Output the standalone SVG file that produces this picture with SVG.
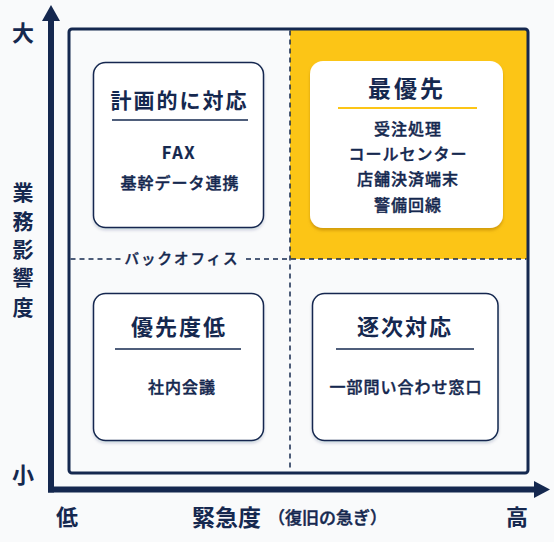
<svg xmlns="http://www.w3.org/2000/svg" width="554" height="542" viewBox="0 0 554 542">
<defs>
<style>
.t{font-family:"Noto Sans CJK JP","Noto Sans",sans-serif;fill:#15284f}
.ax{font-size:22px;font-weight:700}
.vx{font-size:21px;font-weight:700}
.ti{font-size:22px;font-weight:700;text-anchor:middle;letter-spacing:2px}
.bd{font-size:16px;font-weight:500;text-anchor:middle;letter-spacing:1px;stroke:#15284f;stroke-width:0.4px}
.box{fill:#ffffff;stroke:#15284f;stroke-width:1.5}
.dash{stroke:#15284f;stroke-width:1.5;stroke-dasharray:5 4;fill:none}
</style>
<filter id="sh" x="-10%" y="-10%" width="120%" height="125%">
<feDropShadow dx="0" dy="2" stdDeviation="1.5" flood-color="#15284f" flood-opacity="0.18"/>
</filter>
<filter id="shy" x="-10%" y="-10%" width="120%" height="125%">
<feDropShadow dx="0" dy="2.5" stdDeviation="1.5" flood-color="#b07a00" flood-opacity="0.55"/>
</filter>
</defs>
<rect width="554" height="542" fill="#f9fafb"/>

<g id="quadrants">
<rect x="290" y="29" width="238" height="230" fill="#fcc516"/>
<rect x="69" y="29" width="459" height="444" rx="3" fill="none" stroke="#15284f" stroke-width="3"/>
</g>

<g id="connectors">
<line class="dash" x1="290" y1="30.5" x2="290" y2="471.5"/>
<line class="dash" x1="70.5" y1="259" x2="122" y2="259"/>
<line class="dash" x1="246" y1="259" x2="526.5" y2="259"/>
<line x1="51" y1="20" x2="51" y2="492.5" stroke="#15284f" stroke-width="6"/>
<polygon points="51,5 60,21 42,21" fill="#15284f"/>
<line x1="48" y1="489.5" x2="535" y2="489.5" stroke="#15284f" stroke-width="6"/>
<polygon points="550,489.5 534,481 534,498" fill="#15284f"/>
</g>

<g id="axis-labels">
<text class="t ax" x="23" y="41" text-anchor="middle">大</text>
<text class="t vx" x="23" y="200" text-anchor="middle">業</text>
<text class="t vx" x="23" y="229" text-anchor="middle">務</text>
<text class="t vx" x="23" y="257" text-anchor="middle">影</text>
<text class="t vx" x="23" y="285" text-anchor="middle">響</text>
<text class="t vx" x="23" y="315" text-anchor="middle">度</text>
<text class="t ax" x="23" y="483" text-anchor="middle">小</text>
<text class="t ax" x="67" y="525" text-anchor="middle">低</text>
<text class="t" x="192" y="526" style="font-size:23px;font-weight:700">緊急度</text>
<text class="t" x="268" y="523.5" style="font-size:17px;font-weight:500;stroke:#15284f;stroke-width:0.45px">（復旧の急ぎ）</text>
<text class="t ax" x="517" y="525" text-anchor="middle">高</text>
<text class="t" x="182" y="264" text-anchor="middle" style="font-size:14.5px;font-weight:500;letter-spacing:2px;stroke:#15284f;stroke-width:0.4px">バックオフィス</text>
</g>

<g id="node-plan">
<rect class="box" x="93.5" y="62.5" width="170" height="165" rx="12" filter="url(#sh)"/>
<text class="t ti" x="179.5" y="108" style="font-size:21px">計画的に対応</text>
<line x1="112" y1="120" x2="248" y2="120" stroke="#15284f" stroke-width="1.5"/>
<text class="t bd" x="179" y="159" style="font-weight:700;font-size:16.5px;letter-spacing:1.5px;stroke-width:0.2px">FAX</text>
<text class="t bd" x="180" y="189">基幹データ連携</text>
</g>

<g id="node-top">
<rect x="310" y="61" width="193" height="167" rx="13" fill="#ffffff" filter="url(#shy)"/>
<text class="t ti" x="407" y="97" style="font-size:23px;letter-spacing:3px">最優先</text>
<line x1="338" y1="108" x2="477" y2="108" stroke="#fcc516" stroke-width="2"/>
<text class="t bd" x="408" y="135">受注処理</text>
<text class="t bd" x="408" y="160">コールセンター</text>
<text class="t bd" x="408" y="185">店舗決済端末</text>
<text class="t bd" x="408" y="211">警備回線</text>
</g>

<g id="node-low">
<rect class="box" x="93.5" y="293.5" width="170" height="147" rx="12" filter="url(#sh)"/>
<text class="t ti" x="179" y="335">優先度低</text>
<line x1="115" y1="349" x2="241" y2="349" stroke="#15284f" stroke-width="1.5"/>
<text class="t bd" x="182" y="393">社内会議</text>
</g>

<g id="node-seq">
<rect class="box" x="312.5" y="293.5" width="185.5" height="147" rx="12" filter="url(#sh)"/>
<text class="t ti" x="405" y="335">逐次対応</text>
<line x1="336" y1="349" x2="474" y2="349" stroke="#15284f" stroke-width="1.5"/>
<text class="t bd" x="406" y="393">一部問い合わせ窓口</text>
</g>
</svg>
